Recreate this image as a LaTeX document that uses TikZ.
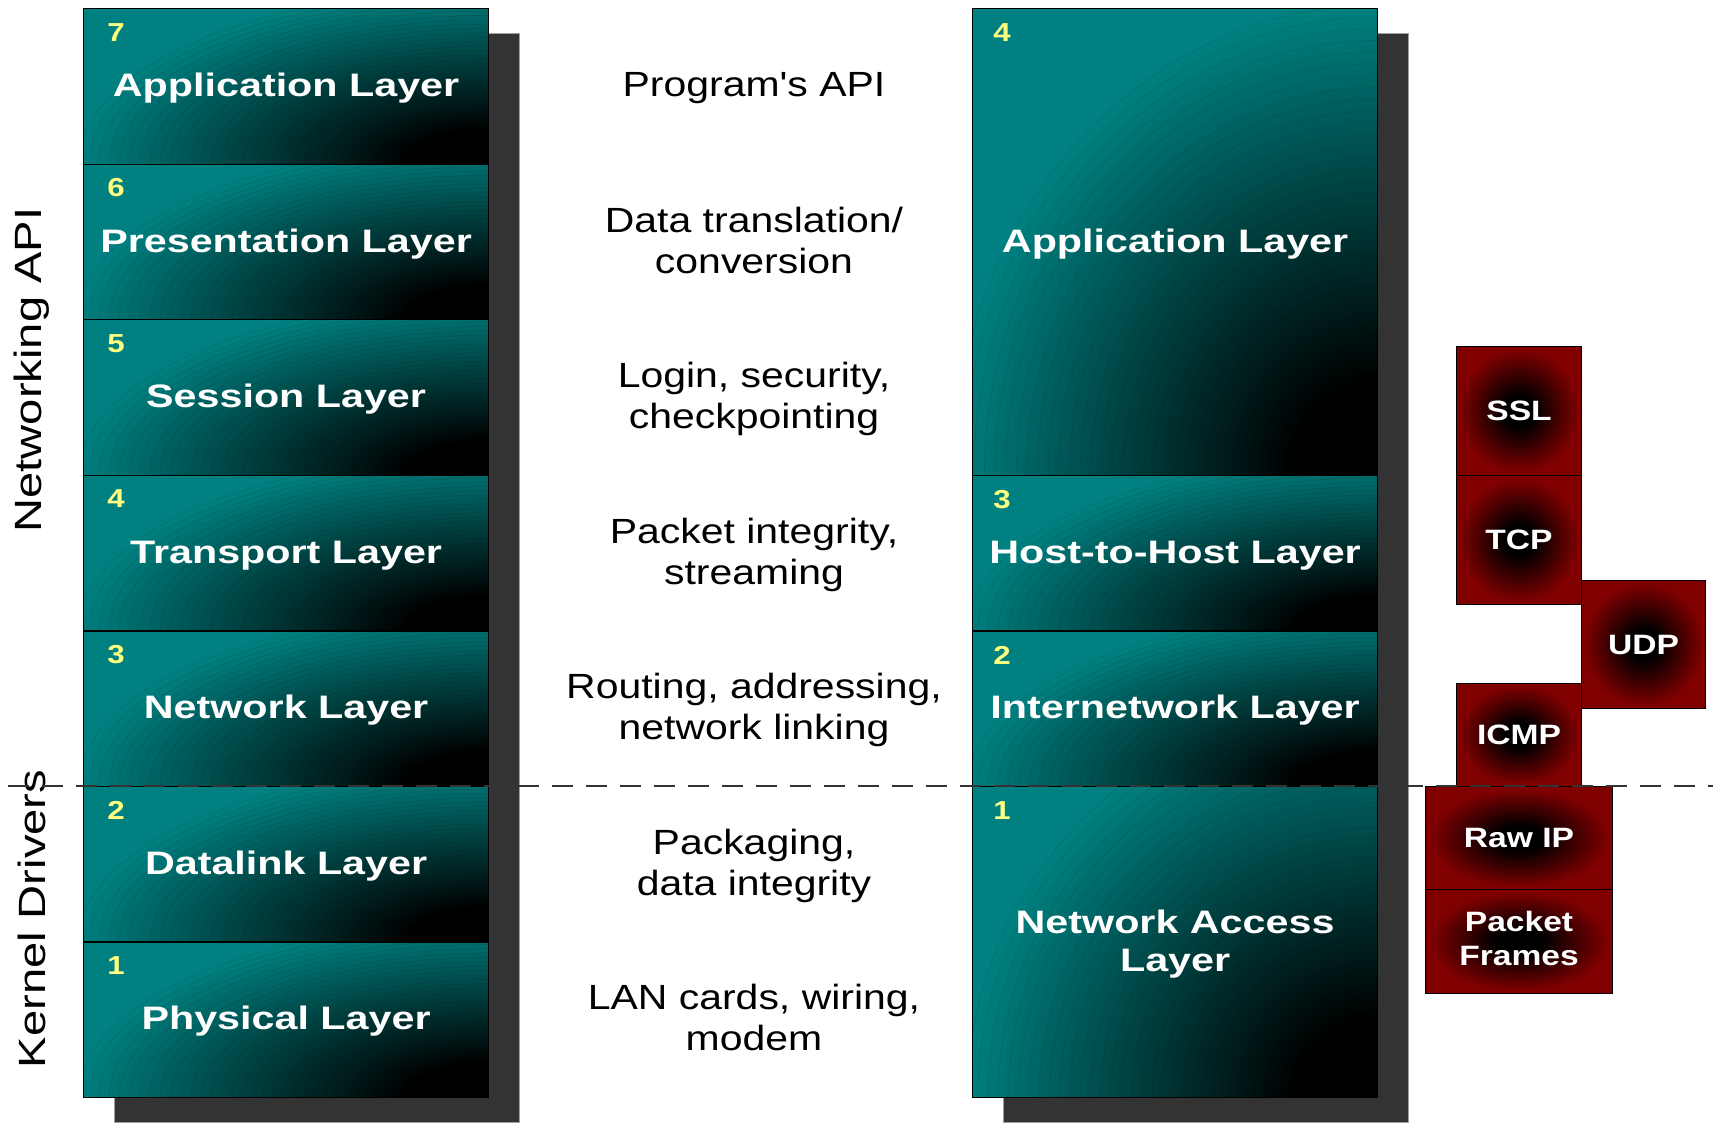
\documentclass[tikz,border=0pt]{standalone}
\usepackage{fontspec}
\setmainfont{Liberation Sans}
\newfontfamily\plainsans{Liberation Sans}
\usepackage{graphicx}
\definecolor{tealc}{RGB}{0,128,128}
\definecolor{dred}{RGB}{128,0,0}
\definecolor{numy}{RGB}{255,255,128}
\definecolor{shadowc}{RGB}{51,51,51}
\pgfdeclareradialshading{tealfade}{\pgfpoint{0bp}{0bp}}{color(0bp)=(black); color(5bp)=(black); color(25bp)=(tealc); color(50bp)=(tealc)}
\pgfdeclareradialshading{redglow}{\pgfpoint{0bp}{0bp}}{color(0bp)=(black); color(6bp)=(black); color(24bp)=(dred); color(50bp)=(dred)}
\newcommand{\mtxt}[1]{\scalebox{1.17}[1]{\begin{tabular}{@{}c@{}}#1\end{tabular}}}
\newcommand{\btxt}[1]{\raisebox{-2.5pt}[\height][\depth]{\scalebox{1.27}[1]{\begin{tabular}{@{}c@{}}#1\end{tabular}}}}
\newcommand{\ntxt}[1]{\scalebox{1.2}[1]{#1}}
\begin{document}
\begin{tikzpicture}[x=1pt,y=-1pt,
  layer/.style={draw=black, line width=1.2pt, rectangle, inner sep=0pt, anchor=north west,
    minimum width=405pt, text=white, fill=tealc,
    font=\fontsize{32.5}{38}\selectfont\bfseries},
  tealshade/.style 2 args={path picture={
    \shade[shading=tealfade] (path picture bounding box.south east) ellipse (#1 and #2);
    \foreach \k in {0.40,0.425,...,1.01}{
      \draw[black, opacity=0.13, line width=0.5pt] (path picture bounding box.south east) ellipse ({\k*#1} and {\k*#2});
    }}},
  shadowbox/.style={rectangle, inner sep=0pt, anchor=north west, fill=shadowc, draw=gray!75, line width=0.8pt, minimum width=405pt},
  num/.style={text=numy, font=\fontsize{26}{30}\selectfont\bfseries, inner sep=0pt},
  midtext/.style={font=\fontsize{35}{41}\selectfont, text=black, inner sep=0pt},
  sidetext/.style={font=\fontsize{38}{44}\selectfont, text=black, inner sep=0pt, rotate=90},
  redbox/.style={rectangle, draw=black, line width=1pt, shade, shading=redglow, inner sep=0pt,
    anchor=north west, text=white, font=\fontsize{28}{34}\selectfont\bfseries},
  divider/.style={draw=black!80, line width=1.4pt, dash pattern=on 21pt off 13pt}
]
\useasboundingbox (0,0) rectangle (1713,1122);
\fill[white] (0,0) rectangle (1713,1122);

% shadows
\node[shadowbox, minimum height=1089pt] (LS) at (114,33) {};
\node[shadowbox, minimum height=1089pt] (RS) at (1003,33) {};

% left OSI stack
\node[layer, tealshade={410pt}{175pt}, minimum height=155.6pt] (L7) at (83,8) {\btxt{Application Layer}};
\node[layer, tealshade={410pt}{175pt}, minimum height=155.6pt] (L6) at (83,163.6) {\btxt{Presentation Layer}};
\node[layer, tealshade={410pt}{175pt}, minimum height=155.6pt] (L5) at (83,319.1) {\btxt{Session Layer}};
\node[layer, tealshade={410pt}{175pt}, minimum height=155.6pt] (L4) at (83,474.7) {\btxt{Transport Layer}};
\node[layer, tealshade={410pt}{175pt}, minimum height=155.6pt] (L3) at (83,630.3) {\btxt{Network Layer}};
\node[layer, tealshade={410pt}{175pt}, minimum height=155.6pt] (L2) at (83,785.9) {\btxt{Datalink Layer}};
\node[layer, tealshade={410pt}{175pt}, minimum height=155.6pt] (L1) at (83,941.4) {\btxt{Physical Layer}};

\node[num] (n7) at (116,32.5) {\ntxt{7}};
\node[num] (n6) at (116,188) {\ntxt{6}};
\node[num] (n5) at (116,343.5) {\ntxt{5}};
\node[num] (n4) at (116,499) {\ntxt{4}};
\node[num] (n3) at (116,654.5) {\ntxt{3}};
\node[num] (n2) at (116,810) {\ntxt{2}};
\node[num] (n1) at (116,965.5) {\ntxt{1}};

% right TCP/IP stack
\node[layer, tealshade={425pt}{470pt}, minimum height=466.7pt] (R4) at (972,8) {\btxt{Application Layer}};
\node[layer, tealshade={410pt}{175pt}, minimum height=155.6pt] (R3) at (972,474.7) {\btxt{Host-to-Host Layer}};
\node[layer, tealshade={410pt}{175pt}, minimum height=155.6pt] (R2) at (972,630.3) {\btxt{Internetwork Layer}};
\node[layer, tealshade={410pt}{400pt}, minimum height=311.1pt] (R1) at (972,785.9) {\btxt{Network Access\\Layer}};

\node[num] (m4) at (1002,32.5) {\ntxt{4}};
\node[num] (m3) at (1002,499.5) {\ntxt{3}};
\node[num] (m2) at (1002,655) {\ntxt{2}};
\node[num] (m1) at (1002,811) {\ntxt{1}};

% middle descriptions
\node[midtext] (d7) at (754,88.5) {\mtxt{Program{\plainsans'}s API}};
\node[midtext] (d6) at (754,244.5) {\mtxt{Data translation/\\conversion}};
\node[midtext] (d5) at (754,399.5) {\mtxt{Login, security,\\checkpointing}};
\node[midtext] (d4) at (754,555.5) {\mtxt{Packet integrity,\\streaming}};
\node[midtext] (d3) at (754,711) {\mtxt{Routing, addressing,\\network linking}};
\node[midtext] (d2) at (754,866.5) {\mtxt{Packaging,\\data integrity}};
\node[midtext] (d1) at (754,1021.5) {\mtxt{LAN cards, wiring,\\modem}};

% side labels
\node[sidetext] (api) at (32,370) {\scalebox{1.24}[1]{Networking API}};
\node[sidetext] (kern) at (32,919) {\scalebox{1.24}[1]{Kernel Drivers}};

% protocol boxes
\node[redbox, minimum width=125pt, minimum height=129pt] (ssl) at (1456,346) {\ntxt{SSL}};
\node[redbox, minimum width=125pt, minimum height=129pt] (tcp) at (1456,475) {\ntxt{TCP}};
\node[redbox, minimum width=124pt, minimum height=128pt] (udp) at (1581,580) {\ntxt{UDP}};
\node[redbox, minimum width=125pt, minimum height=103pt] (icmp) at (1456,683) {\ntxt{ICMP}};
\node[redbox, minimum width=187pt, minimum height=103pt] (rawip) at (1425,786) {\ntxt{Raw IP}};
\node[redbox, minimum width=187pt, minimum height=104pt, align=center] (frames) at (1425,889) {\scalebox{1.2}[1]{\begin{tabular}{@{}c@{}}Packet\\Frames\end{tabular}}};

% dashed divider
\coordinate (dl) at (8,785.9);
\coordinate (dr) at (1713,785.9);
\draw[divider] (dl) -- (dr);
\end{tikzpicture}
\end{document}
